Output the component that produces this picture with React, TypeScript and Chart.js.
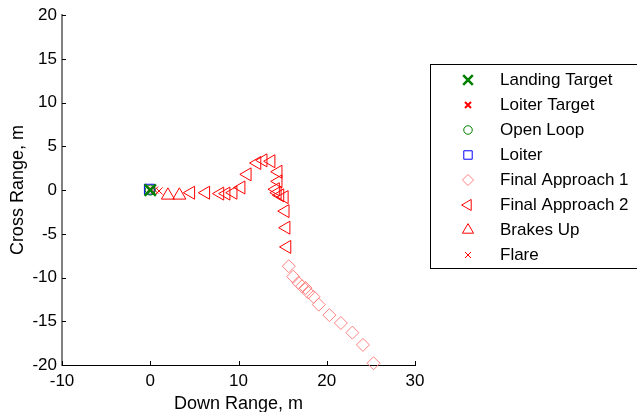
import React, { useEffect, useRef } from 'react';
import { Chart, registerables } from 'chart.js';
import { drawPoint } from 'chart.js/helpers';

Chart.register(...registerables);

const landingTargetX = [0];
const landingTargetY = [0];
const loiterTargetX = [0];
const loiterTargetY = [0.05];
const openLoopX = [0];
const openLoopY = [0];
const loiterX = [-0.1];
const loiterY = [0.1];
const finalApproach1X = [15.7, 16.2, 16.8, 17.2, 17.6, 17.9, 18.5, 19.1, 20.3, 21.6, 22.9, 24.1, 25.3];
const finalApproach1Y = [-8.7, -9.9, -10.6, -11.0, -11.2, -11.7, -12.2, -13.1, -14.3, -15.2, -16.3, -17.7, -19.8];
const finalApproach2X = [4.6, 6.3, 7.9, 8.6, 9.4, 10.3, 11.0, 12.1, 12.8, 13.7, 14.5, 14.5, 14.2, 14.4, 14.7, 15.2, 15.3, 15.4, 15.5];
const finalApproach2Y = [-0.3, -0.3, -0.4, -0.4, -0.3, 0.3, 1.8, 3.1, 3.4, 3.3, 2.1, 1.0, 0.1, -0.3, -0.6, -0.8, -2.4, -4.3, -6.5];
const brakesUpX = [2.0, 3.3];
const brakesUpY = [-0.6, -0.6];
const flareX = [0.5, 1.0];
const flareY = [0.0, -0.1];

const xTicks = [-10, 0, 10, 20, 30];
const yTicks = [-20, -15, -10, -5, 0, 5, 10, 15, 20];
const seriesNames = ['Landing Target', 'Loiter Target', 'Open Loop', 'Loiter', 'Final Approach 1', 'Final Approach 2', 'Brakes Up', 'Flare'];

const FONT = '"Liberation Sans", Arial, Helvetica, sans-serif';

const toPoints = (xs: number[], ys: number[]) => xs.map((x, i) => ({ x, y: ys[i] }));

const styles = [
  { color: '#008000', pointStyle: 'crossRot', radius: 8, borderWidth: 2.5, rotation: 0 },
  { color: '#ff0000', pointStyle: 'crossRot', radius: 5, borderWidth: 2, rotation: 0 },
  { color: '#008000', pointStyle: 'circle', radius: 5, borderWidth: 1, rotation: 0 },
  { color: '#0000ff', pointStyle: 'rect', radius: 7, borderWidth: 1, rotation: 0 },
  { color: '#ff8080', pointStyle: 'rectRot', radius: 6.5, borderWidth: 1, rotation: 0 },
  { color: '#ff0000', pointStyle: 'triangle', radius: 7.5, borderWidth: 1, rotation: -90 },
  { color: '#ff0000', pointStyle: 'triangle', radius: 7.5, borderWidth: 1, rotation: 0 },
  { color: '#ff0000', pointStyle: 'crossRot', radius: 5, borderWidth: 1, rotation: 0 },
];

const seriesData = [
  toPoints(landingTargetX, landingTargetY),
  toPoints(loiterTargetX, loiterTargetY),
  toPoints(openLoopX, openLoopY),
  toPoints(loiterX, loiterY),
  toPoints(finalApproach1X, finalApproach1Y),
  toPoints(finalApproach2X, finalApproach2Y),
  toPoints(brakesUpX, brakesUpY),
  toPoints(flareX, flareY),
];

const ticksPlugin = {
  id: 'inwardTicks',
  beforeDatasetsDraw(chart: any) {
    const { ctx, chartArea } = chart;
    const xs = chart.scales.x;
    const ys = chart.scales.y;
    ctx.save();
    ctx.strokeStyle = '#000';
    ctx.lineWidth = 1;
    ctx.beginPath();
    xTicks.forEach((v) => {
      const px = Math.round(xs.getPixelForValue(v)) + 0.5;
      ctx.moveTo(px, chartArea.bottom);
      ctx.lineTo(px, chartArea.bottom - 4);
    });
    yTicks.forEach((v) => {
      const py = Math.round(ys.getPixelForValue(v)) + 0.5;
      ctx.moveTo(chartArea.left, py);
      ctx.lineTo(chartArea.left + 4, py);
    });
    ctx.stroke();
    ctx.restore();
  },
};

const legendPlugin = {
  id: 'boxLegend',
  afterDraw(chart: any) {
    const { ctx } = chart;
    const left = 430.5;
    const top = 64.5;
    const height = 204;
    ctx.save();
    ctx.fillStyle = '#fff';
    ctx.fillRect(left, top, 400, height);
    ctx.strokeStyle = '#000';
    ctx.lineWidth = 1;
    ctx.strokeRect(left, top, 400, height);
    ctx.font = `17px ${FONT}`;
    ctx.textBaseline = 'middle';
    ctx.textAlign = 'left';
    seriesNames.forEach((name, i) => {
      const y = 80 + i * 25;
      const s = styles[i];
      ctx.save();
      ctx.strokeStyle = s.color;
      ctx.fillStyle = 'rgba(0,0,0,0)';
      ctx.lineWidth = s.borderWidth;
      drawPoint(ctx, { pointStyle: s.pointStyle, radius: s.radius * 0.85, rotation: s.rotation, borderWidth: s.borderWidth } as any, 468, y);
      ctx.restore();
      ctx.fillStyle = '#000';
      ctx.fillText(name, 500, y);
    });
    ctx.restore();
  },
};

export default function App() {
  const ref = useRef<HTMLCanvasElement | null>(null);
  useEffect(() => {
    document.body.style.margin = '0';
    if (!ref.current) return;
    const chart = new Chart(ref.current, {
      type: 'scatter',
      data: {
        datasets: seriesNames.map((name, i) => ({
          label: name,
          data: seriesData[i],
          showLine: false,
          clip: false as any,
          pointStyle: styles[i].pointStyle as any,
          pointRadius: styles[i].radius,
          pointRotation: styles[i].rotation,
          pointBorderWidth: styles[i].borderWidth,
          borderColor: styles[i].color,
          backgroundColor: 'rgba(0,0,0,0)',
          pointBackgroundColor: 'rgba(0,0,0,0)',
          pointBorderColor: styles[i].color,
        })),
      },
      options: {
        animation: false,
        responsive: false,
        layout: { padding: { left: 0, right: 222, top: 15, bottom: 0 } },
        plugins: { legend: { display: false }, tooltip: { enabled: false } },
        scales: {
          x: {
            type: 'linear',
            min: -10,
            max: 30,
            afterBuildTicks: (s: any) => { s.ticks = xTicks.map((v) => ({ value: v })); },
            afterFit: (s: any) => { s.height = 47; },
            grid: { display: true, drawOnChartArea: false, drawTicks: false, tickLength: 0 },
            border: { display: true, color: '#000', width: 1 },
            ticks: { color: '#000', font: { family: FONT, size: 17 }, padding: 6, maxRotation: 0, autoSkip: false },
            title: { display: true, text: 'Down Range, m', color: '#000', font: { family: FONT, size: 18, lineHeight: 0.9 }, padding: { top: 0, bottom: 0 } },
          },
          y: {
            type: 'linear',
            min: -20,
            max: 20,
            afterBuildTicks: (s: any) => { s.ticks = yTicks.map((v) => ({ value: v })); },
            afterFit: (s: any) => { s.width = 62; },
            grid: { display: true, drawOnChartArea: false, drawTicks: false, tickLength: 0 },
            border: { display: true, color: '#808080', width: 2 },
            ticks: { color: '#000', font: { family: FONT, size: 17 }, padding: 5, autoSkip: false },
            title: { display: true, text: 'Cross Range, m', color: '#000', font: { family: FONT, size: 18, lineHeight: 0.9 }, padding: { top: 10, bottom: 0 } },
          },
        },
      },
      plugins: [ticksPlugin, legendPlugin],
    });
    return () => chart.destroy();
  }, []);
  return (
    <div style={{ width: 637, height: 412 }}>
      <canvas ref={ref} width={637} height={412} style={{ display: 'block' }} />
    </div>
  );
}
